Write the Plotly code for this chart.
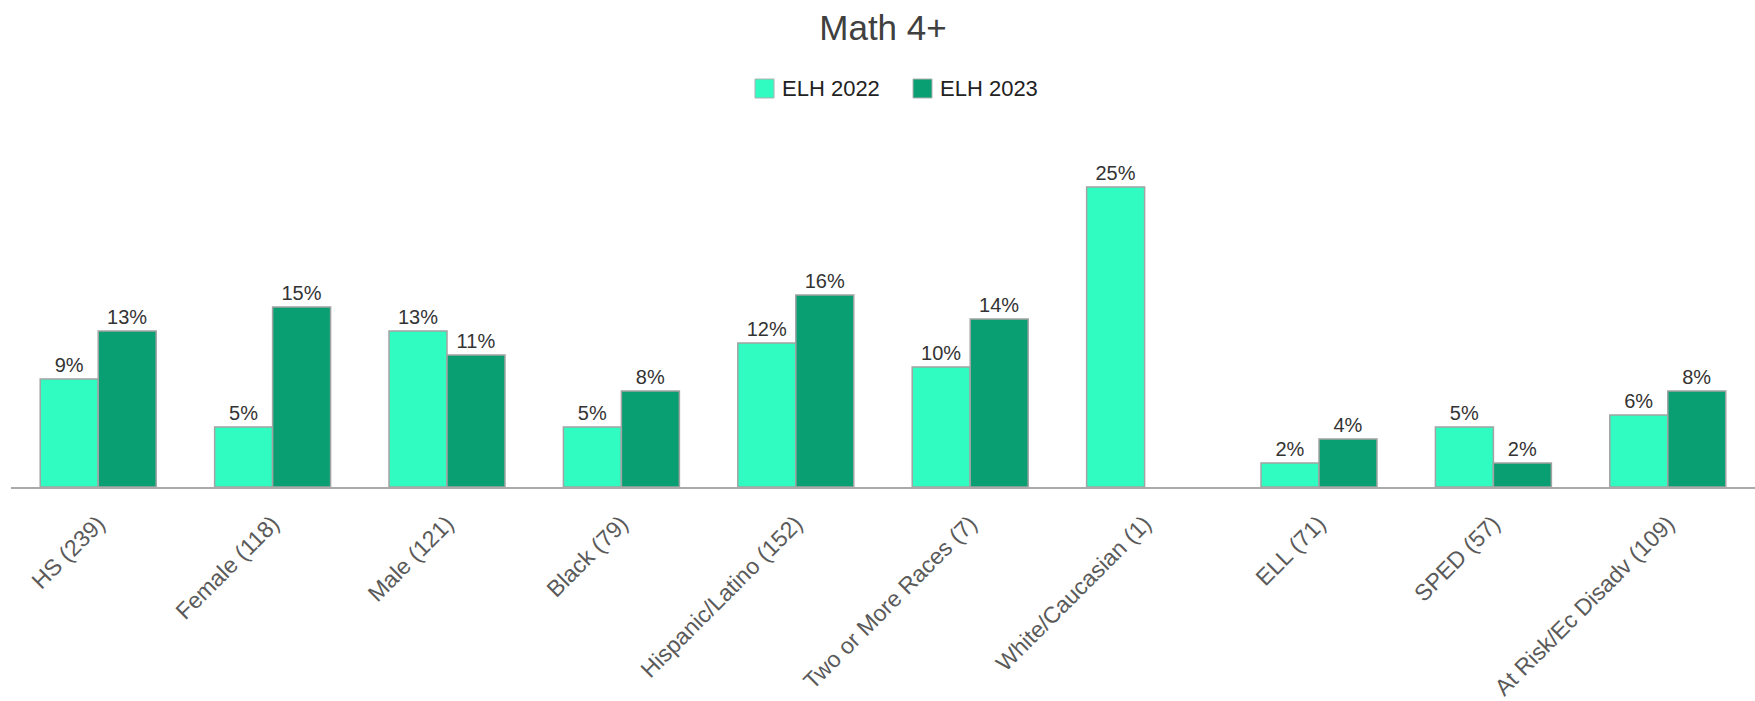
import plotly.graph_objects as go

# Student groups (with counts) and the share scoring 4+ in each year
categories = [
    "HS (239)", "Female (118)", "Male (121)", "Black (79)",
    "Hispanic/Latino (152)", "Two or More Races (7)", "White/Caucasian (1)",
    "ELL (71)", "SPED (57)", "At Risk/Ec Disadv (109)",
]
series_names = ["ELH 2022", "ELH 2023"]
elh_2022 = [9, 5, 13, 5, 12, 10, 25, 2, 5, 6]
elh_2023 = [13, 15, 11, 8, 16, 14, None, 4, 2, 8]

colors = ["#30fcc2", "#0a9f72"]

W, H = 1755, 701
L, R, T, B = 11, 0, 127, 214
plot_w, plot_h = W - L - R, H - T - B


def px_x(x):
    return (x - L) / plot_w


def px_y(y):
    return (H - B - y) / plot_h


fig = go.Figure()
for name, vals, col in zip(series_names, [elh_2022, elh_2023], colors):
    fig.add_trace(go.Bar(
        name=name,
        x=categories,
        y=vals,
        text=["" if v is None else f"{v}%" for v in vals],
        textposition="outside",
        textfont=dict(family="Liberation Sans", size=20, color="#333333"),
        marker=dict(color=col, line=dict(color="#a3a3a3", width=1.5)),
        cliponaxis=False,
        showlegend=False,
    ))

# Legend drawn as swatches + labels centred above the bars
legend_items = [(755, 780), (913, 938)]
for (sx, tx), name, col in zip(legend_items, series_names, colors):
    fig.add_shape(type="rect", xref="paper", yref="paper",
                  x0=px_x(sx), x1=px_x(sx + 19), y0=px_y(98), y1=px_y(79),
                  fillcolor=col, line=dict(color="#b0b0b0", width=1))
    fig.add_annotation(xref="paper", yref="paper", x=px_x(tx), y=px_y(89),
                       xanchor="left", yanchor="middle", showarrow=False,
                       text=name,
                       font=dict(family="Liberation Sans", size=22, color="#222222"))

fig.update_layout(
    width=W, height=H,
    margin=dict(l=L, r=R, t=T, b=B, pad=0),
    paper_bgcolor="white", plot_bgcolor="white",
    barmode="group", bargap=0.335, bargroupgap=0,
    title=dict(text="Math 4+", x=0.5, xref="paper", xanchor="center",
               y=1 - 15 / H, yref="container", yanchor="top",
               font=dict(family="Liberation Sans", size=35, color="#404040")),
    xaxis=dict(range=[-0.5, 9.5], tickangle=-45, showgrid=False,
               showline=True, linecolor="#aaaaaa", linewidth=2,
               ticks="", ticklabelstandoff=12,
               tickfont=dict(family="Liberation Sans", size=23, color="#5a5a5a")),
    yaxis=dict(range=[0, 30], visible=False, showgrid=False, zeroline=False),
)

fig.write_html("out.html")
